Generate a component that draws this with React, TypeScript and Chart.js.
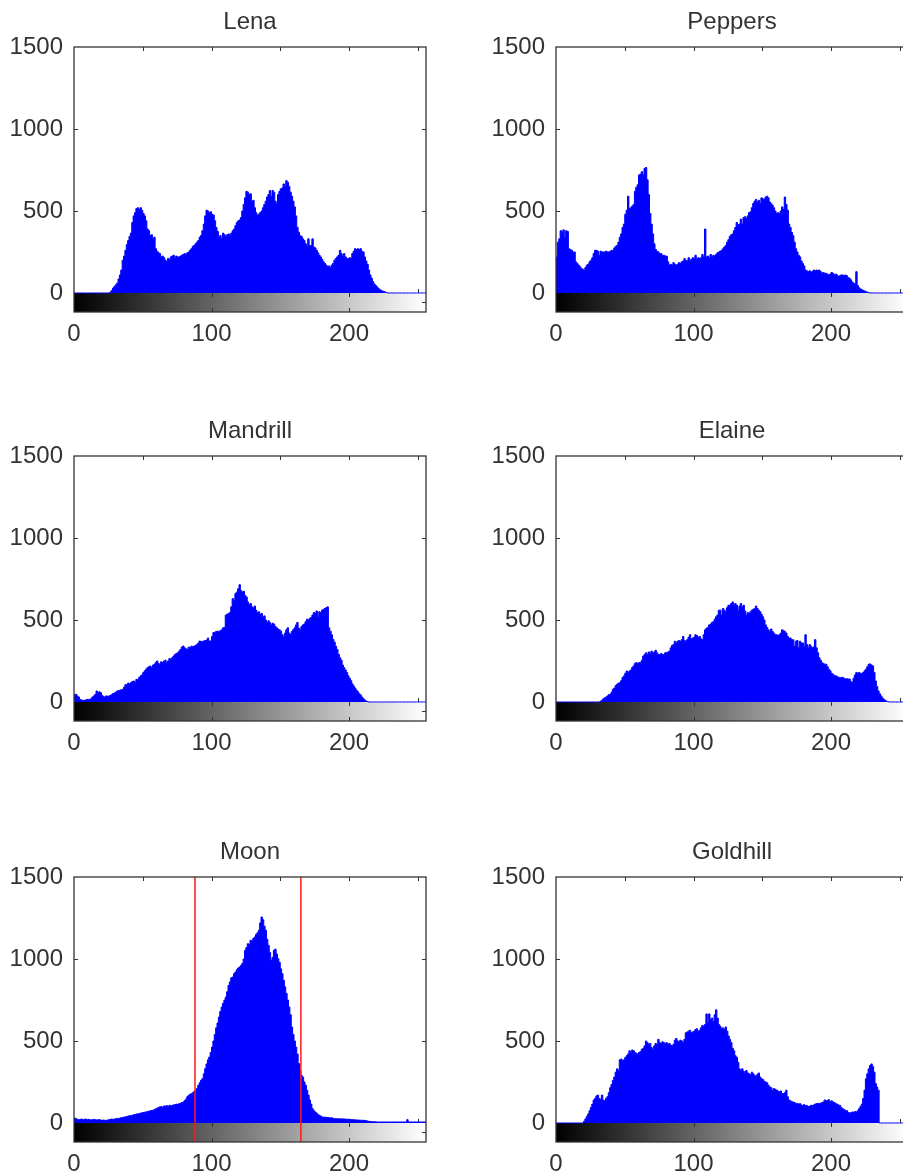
import { useEffect, useRef } from 'react';
import { Chart, registerables } from 'chart.js';

Chart.register(...registerables);

// ---------- axes / ticks ----------
const xTickValues = [0, 50, 100, 150, 200, 250];
const xTickLabels = [0, 100, 200];
const colorbarTickValues = [100, 200];
const yTickValues = [0, 500, 1000, 1500];
const yInnerTickValues = [500, 1000];
const xMin = 0;
const xMax = 256;
const yMin = -116;
const yMax = 1500;

// ---------- titles ----------
const titles = ['Lena', 'Peppers', 'Mandrill', 'Elaine', 'Moon', 'Goldhill'];

// ---------- histogram counts (bins 0..255) ----------
const lenaCounts = [
  0, 0, 0, 0, 0, 0, 0, 0, 0, 0, 0, 0, 0, 0, 0, 0,
  0, 0, 0, 0, 0, 0, 0, 0, 0, 0, 5, 15, 30, 40, 50, 60,
  85, 110, 140, 200, 225, 260, 295, 320, 345, 365, 430, 470, 490, 515, 520, 510,
  520, 505, 485, 470, 440, 390, 380, 350, 355, 330, 340, 270, 255, 245, 240, 220,
  225, 215, 200, 190, 210, 205, 220, 225, 230, 215, 225, 220, 220, 225, 230, 235,
  240, 235, 245, 250, 260, 270, 285, 290, 300, 310, 320, 340, 350, 380, 420, 470,
  505, 500, 490, 495, 480, 475, 440, 400, 375, 340, 350, 330, 365, 355, 345, 355,
  360, 350, 365, 380, 390, 410, 430, 440, 445, 460, 500, 540, 580, 620, 615, 600,
  605, 560, 565, 520, 490, 475, 480, 490, 500, 520, 540, 560, 585, 600, 625, 590,
  625, 615, 560, 545, 600, 620, 635, 640, 665, 650, 685, 675, 650, 615, 590, 560,
  525, 470, 400, 370, 350, 345, 330, 320, 300, 290, 330, 290, 290, 330, 280, 275,
  260, 245, 230, 220, 205, 190, 180, 170, 160, 165, 155, 170, 180, 200, 210, 220,
  230, 260, 240, 225, 240, 220, 210, 210, 215, 210, 240, 255, 270, 265, 270, 265,
  270, 255, 250, 220, 195, 175, 140, 110, 90, 70, 55, 45, 37, 28, 20, 15,
  12, 9, 5, 2, 0, 0, 0, 0, 0, 0, 0, 0, 0, 0, 0, 0,
  0, 0, 0, 0, 0, 0, 0, 0, 0, 0, 0, 0, 0, 0, 0, 0,
];

const peppersCounts = [
  220, 310, 330, 380, 370, 385, 340, 380, 375, 270, 265, 260, 250, 250, 190, 180,
  170, 160, 150, 145, 140, 155, 170, 175, 190, 200, 215, 240, 260, 260, 255, 230,
  255, 250, 250, 250, 255, 250, 250, 255, 260, 260, 275, 285, 290, 310, 340, 360,
  400, 420, 480, 505, 590, 515, 520, 530, 540, 620, 645, 660, 720, 725, 740, 720,
  760, 765, 690, 600, 485, 420, 360, 300, 265, 255, 250, 240, 240, 230, 230, 225,
  225, 190, 170, 175, 170, 185, 175, 170, 175, 185, 180, 190, 195, 210, 200, 195,
  215, 200, 205, 215, 210, 230, 205, 215, 210, 215, 235, 220, 390, 220, 225, 215,
  235, 220, 230, 225, 235, 245, 250, 255, 260, 270, 280, 290, 310, 325, 345, 355,
  360, 380, 400, 430, 415, 420, 450, 420, 460, 465, 455, 470, 490, 495, 520, 545,
  560, 570, 555, 565, 545, 580, 575, 570, 585, 590, 580, 555, 545, 535, 520, 500,
  485, 490, 485, 500, 525, 510, 585, 540, 505, 420, 400, 370, 350, 310, 270, 250,
  230, 220, 195, 180, 165, 140, 135, 130, 135, 130, 130, 140, 135, 140, 135, 140,
  130, 120, 125, 120, 120, 115, 110, 115, 125, 120, 110, 115, 110, 100, 105, 110,
  110, 105, 110, 105, 95, 90, 80, 67, 60, 57, 130, 45, 32, 25, 20, 15,
  12, 8, 5, 2, 0, 0, 0, 0, 0, 0, 0, 0, 0, 0, 0, 0,
  0, 0, 0, 0, 0, 0, 0, 0, 0, 0, 0, 0, 0, 0, 0, 0,
];

const mandrillCounts = [
  45, 47, 37, 30, 16, 12, 10, 10, 12, 16, 14, 16, 20, 30, 37, 45,
  67, 55, 62, 57, 40, 32, 30, 37, 35, 37, 40, 45, 51, 55, 60, 67,
  70, 71, 75, 77, 90, 105, 107, 115, 110, 118, 125, 128, 120, 138, 135, 150,
  159, 165, 179, 190, 200, 209, 215, 219, 210, 225, 230, 240, 250, 235, 230, 245,
  240, 250, 255, 240, 250, 265, 260, 270, 280, 290, 295, 300, 310, 320, 335, 341,
  330, 325, 320, 335, 331, 340, 338, 341, 345, 350, 360, 372, 365, 370, 372, 375,
  378, 390, 372, 372, 400, 423, 425, 430, 432, 430, 435, 440, 452, 455, 530, 535,
  540, 545, 580, 630, 620, 660, 670, 690, 715, 680, 670, 675, 650, 640, 610, 595,
  600, 580, 575, 585, 560, 545, 550, 535, 540, 520, 525, 500, 485, 495, 485, 470,
  480, 475, 460, 452, 445, 440, 432, 410, 400, 420, 440, 452, 420, 412, 430, 440,
  452, 470, 485, 450, 440, 460, 470, 475, 490, 505, 500, 510, 515, 530, 545, 540,
  555, 520, 550, 545, 560, 565, 570, 575, 580, 452, 432, 410, 382, 365, 340, 320,
  290, 270, 255, 225, 209, 195, 179, 160, 145, 130, 110, 97, 85, 72, 62, 50,
  43, 30, 20, 12, 6, 3, 0, 0, 0, 0, 0, 0, 0, 0, 0, 0,
  0, 0, 0, 0, 0, 0, 0, 0, 0, 0, 0, 0, 0, 0, 0, 0,
  0, 0, 0, 0, 0, 0, 0, 0, 0, 0, 0, 0, 0, 0, 0, 0,
];

const elaineCounts = [
  0, 0, 0, 0, 0, 0, 0, 0, 0, 0, 0, 0, 0, 0, 0, 0,
  0, 0, 0, 0, 0, 0, 0, 0, 0, 0, 0, 0, 0, 0, 0, 0,
  5, 10, 20, 25, 30, 37, 45, 47, 60, 77, 85, 100, 108, 115, 118, 130,
  150, 159, 175, 189, 180, 189, 195, 210, 220, 235, 240, 235, 240, 240, 255, 280,
  290, 300, 290, 305, 295, 310, 300, 305, 315, 300, 290, 290, 295, 290, 290, 300,
  300, 305, 310, 330, 345, 350, 370, 360, 370, 375, 370, 380, 400, 375, 370, 380,
  395, 410, 385, 390, 395, 410, 405, 395, 400, 385, 380, 410, 440, 450, 455, 470,
  475, 485, 490, 505, 520, 530, 560, 560, 530, 570, 560, 550, 575, 590, 590, 600,
  610, 595, 600, 590, 560, 585, 600, 580, 590, 555, 530, 545, 540, 550, 560, 565,
  570, 585, 570, 560, 550, 535, 520, 500, 470, 455, 440, 430, 445, 430, 420, 410,
  410, 405, 410, 420, 440, 435, 430, 420, 400, 390, 390, 380, 380, 340, 370, 375,
  330, 370, 360, 360, 340, 410, 350, 330, 350, 340, 330, 335, 380, 330, 300, 270,
  255, 240, 235, 230, 230, 215, 200, 190, 175, 170, 160, 160, 155, 150, 150, 148,
  150, 145, 140, 142, 140, 140, 125, 118, 145, 165, 180, 175, 180, 175, 170, 180,
  190, 200, 215, 230, 232, 225, 220, 180, 128, 95, 67, 50, 37, 25, 15, 10,
  5, 2, 0, 0, 0, 0, 0, 0, 0, 0, 0, 0, 0, 0, 0, 0,
];

const moonCounts = [
  30, 26, 22, 20, 22, 24, 20, 22, 24, 20, 22, 20, 18, 20, 22, 20,
  18, 20, 20, 18, 16, 18, 16, 16, 18, 20, 22, 24, 22, 24, 26, 28,
  26, 30, 32, 34, 36, 37, 40, 42, 44, 45, 47, 50, 52, 54, 56, 57,
  60, 62, 64, 66, 67, 70, 72, 74, 76, 77, 82, 86, 90, 95, 98, 100,
  96, 104, 102, 106, 100, 108, 104, 108, 110, 112, 115, 112, 118, 120, 125, 128,
  135, 145, 160, 169, 175, 179, 185, 192, 199, 210, 230, 245, 260, 270, 300, 331,
  360, 385, 402, 430, 463, 500, 540, 580, 610, 646, 680, 707, 730, 750, 768, 800,
  839, 860, 885, 890, 910, 920, 935, 945, 951, 960, 972, 1000, 1053, 1070, 1093, 1090,
  1114, 1110, 1125, 1134, 1150, 1160, 1175, 1220, 1256, 1240, 1200, 1175, 1120, 1083, 1040, 992,
  1010, 1053, 1060, 1030, 1002, 980, 940, 910, 870, 830, 790, 750, 707, 660, 585, 540,
  500, 463, 420, 362, 320, 290, 280, 250, 230, 200, 170, 140, 115, 87, 75, 67,
  60, 50, 47, 42, 37, 35, 36, 33, 34, 33, 30, 32, 28, 27, 26, 26,
  25, 26, 24, 25, 24, 24, 22, 23, 22, 21, 20, 20, 19, 18, 18, 17,
  17, 16, 16, 16, 14, 12, 10, 9, 8, 8, 7, 7, 6, 6, 6, 6,
  6, 6, 6, 6, 6, 6, 6, 6, 6, 6, 6, 6, 6, 6, 6, 6,
  6, 6, 20, 6, 6, 6, 6, 6, 6, 6, 6, 6, 6, 6, 6, 6,
];

const goldhillCounts = [
  0, 0, 0, 0, 0, 0, 0, 0, 0, 0, 0, 0, 0, 0, 0, 0,
  0, 0, 0, 0, 10, 25, 40, 55, 75, 95, 115, 140, 150, 165, 170, 150,
  145, 170, 140, 135, 150, 160, 185, 215, 235, 260, 280, 310, 330, 320, 385, 390,
  380, 385, 400, 410, 420, 440, 430, 445, 440, 430, 425, 420, 430, 435, 450, 455,
  470, 500, 490, 480, 485, 460, 445, 470, 485, 480, 510, 490, 485, 495, 490, 485,
  490, 480, 485, 475, 470, 480, 505, 515, 500, 495, 505, 500, 490, 510, 550, 555,
  560, 565, 550, 555, 560, 570, 575, 560, 565, 580, 595, 590, 600, 665, 610, 665,
  630, 640, 620, 660, 690, 640, 600, 590, 575, 580, 570, 585, 560, 530, 510, 490,
  455, 440, 410, 400, 370, 330, 320, 330, 315, 310, 320, 305, 300, 295, 310, 300,
  290, 285, 295, 305, 280, 270, 265, 255, 250, 245, 230, 220, 215, 200, 210, 205,
  200, 195, 190, 195, 180, 178, 185, 200, 160, 140, 135, 130, 128, 125, 118, 120,
  115, 118, 110, 107, 112, 105, 107, 100, 102, 108, 107, 110, 115, 118, 120, 118,
  120, 125, 128, 140, 134, 138, 142, 130, 135, 128, 125, 118, 115, 110, 107, 95,
  87, 82, 77, 75, 65, 61, 63, 67, 65, 70, 67, 75, 87, 100, 115, 150,
  200, 269, 300, 330, 350, 360, 345, 310, 240, 219, 200, 0, 0, 0, 0, 0,
  0, 0, 0, 0, 0, 0, 0, 0, 0, 0, 0, 0, 0, 0, 0, 0,
];

// threshold markers drawn on the Moon histogram
const moonThresholds = [88, 165];

const seriesList = [lenaCounts, peppersCounts, mandrillCounts, elaineCounts, moonCounts, goldhillCounts];
const thresholdList = [[], [], [], [], moonThresholds, []];

// ---------- layout / style ----------
const FONT_FAMILY = '"Liberation Sans", Arial, Helvetica, sans-serif';
const TEXT_COLOR = '#333333';
const AXIS_COLOR = '#333333';
const BLUE = '#0000ff';
const RED = '#ff1a1a';
const TICK_LEN = 4;
const colLeft = [0, 450];
const colWidth = [450, 480];
const colAxisWidth = [74, 106];
const colRightPad = [24, 22];
const rowTop = [0, 409, 830];
const CANVAS_H = 350;
const X_AXIS_H = 38;

const decorPlugin = {
  id: 'histDecor',
  beforeDatasetsDraw(chart: any) {
    const { ctx, chartArea, scales } = chart;
    const xs = scales.x;
    const ys = scales.y;
    const x0 = xs.getPixelForValue(xMin);
    const x1 = xs.getPixelForValue(xMax);
    const yz = ys.getPixelForValue(0);
    const yb = chartArea.bottom;
    ctx.save();
    // grayscale colour bar under the histogram
    const g = ctx.createLinearGradient(x0, 0, x1, 0);
    g.addColorStop(0, '#000000');
    g.addColorStop(1, '#ffffff');
    ctx.fillStyle = g;
    ctx.fillRect(x0, yz, x1 - x0, yb - yz);
    ctx.strokeStyle = AXIS_COLOR;
    ctx.lineWidth = 1;
    ctx.beginPath();
    // inward x ticks (top and above the zero line)
    xTickValues.forEach((v) => {
      if (v === xMin) return;
      const px = Math.round(xs.getPixelForValue(v)) + 0.5;
      ctx.moveTo(px, chartArea.top);
      ctx.lineTo(px, chartArea.top + TICK_LEN);
      ctx.moveTo(px, yz);
      ctx.lineTo(px, yz - TICK_LEN);
    });
    // colour bar ticks
    colorbarTickValues.forEach((v) => {
      const px = Math.round(xs.getPixelForValue(v)) + 0.5;
      ctx.moveTo(px, yz);
      ctx.lineTo(px, yz + TICK_LEN);
      ctx.moveTo(px, yb);
      ctx.lineTo(px, yb - TICK_LEN);
    });
    // inward y ticks on both sides
    yInnerTickValues.forEach((v) => {
      const py = Math.round(ys.getPixelForValue(v)) + 0.5;
      ctx.moveTo(chartArea.left, py);
      ctx.lineTo(chartArea.left + TICK_LEN, py);
      ctx.moveTo(chartArea.right, py);
      ctx.lineTo(chartArea.right - TICK_LEN, py);
    });
    const pm = Math.round((yz + yb) / 2) + 0.5;
    ctx.moveTo(chartArea.right, pm);
    ctx.lineTo(chartArea.right - TICK_LEN, pm);
    ctx.stroke();
    ctx.restore();
  },
  afterDatasetsDraw(chart: any) {
    const { ctx, chartArea } = chart;
    ctx.save();
    ctx.strokeStyle = AXIS_COLOR;
    ctx.lineWidth = 1.3;
    ctx.strokeRect(chartArea.left, chartArea.top, chartArea.right - chartArea.left, chartArea.bottom - chartArea.top);
    ctx.restore();
  },
};

type HistProps = {
  title: string;
  counts: number[];
  thresholds: number[];
  left: number;
  top: number;
  width: number;
  height: number;
  axisWidth: number;
  rightPad: number;
};

function Histogram({ title, counts, thresholds, left, top, width, height, axisWidth, rightPad }: HistProps) {
  const ref = useRef<HTMLCanvasElement | null>(null);
  useEffect(() => {
    const canvas = ref.current;
    if (!canvas) return;
    const histPoints = counts.map((v, i) => ({ x: i, y: v }));
    histPoints.push({ x: xMax, y: counts[counts.length - 1] });
    const datasets: any[] = [
      {
        label: title,
        data: histPoints,
        stepped: true,
        fill: 'origin',
        borderColor: BLUE,
        backgroundColor: BLUE,
        borderWidth: 1,
        pointRadius: 0,
        order: 1,
      },
    ];
    thresholds.forEach((t) => {
      datasets.push({
        label: 'threshold ' + t,
        data: [
          { x: t, y: yMin },
          { x: t, y: yMax },
        ],
        borderColor: RED,
        backgroundColor: RED,
        borderWidth: 1.5,
        pointRadius: 0,
        fill: false,
        order: 0,
      });
    });
    const font = { family: FONT_FAMILY, size: 24, weight: 'normal' as const };
    const chart = new Chart(canvas, {
      type: 'line',
      data: { datasets },
      plugins: [decorPlugin],
      options: {
        animation: false,
        responsive: false,
        events: [],
        layout: { padding: { left: 0, right: rightPad, top: 0, bottom: 0 } },
        plugins: {
          legend: { display: false },
          tooltip: { enabled: false },
          title: {
            display: true,
            text: title,
            fullSize: false,
            color: TEXT_COLOR,
            font,
            padding: { top: 7.5, bottom: 10.7 },
          },
        },
        scales: {
          x: {
            type: 'linear',
            min: xMin,
            max: xMax,
            afterBuildTicks: (s: any) => {
              s.ticks = xTickValues.map((v) => ({ value: v }));
            },
            afterFit: (s: any) => {
              s.height = X_AXIS_H;
            },
            ticks: {
              autoSkip: false,
              maxRotation: 0,
              padding: 8,
              color: TEXT_COLOR,
              font,
              callback: (v: any) => (xTickLabels.includes(Number(v)) ? String(v) : ''),
            },
            grid: { display: false, drawTicks: false },
            border: { display: false },
          },
          y: {
            type: 'linear',
            min: yMin,
            max: yMax,
            afterBuildTicks: (s: any) => {
              s.ticks = yTickValues.map((v) => ({ value: v }));
            },
            afterFit: (s: any) => {
              s.width = axisWidth;
            },
            ticks: {
              padding: 11,
              color: TEXT_COLOR,
              font,
              callback: (v: any) => String(v),
            },
            grid: { display: false, drawTicks: false },
            border: { display: false },
          },
        },
      } as any,
    });
    return () => chart.destroy();
  }, [title, counts, thresholds, width, height, axisWidth, rightPad]);
  return (
    <canvas
      ref={ref}
      width={width}
      height={height}
      style={{ position: 'absolute', left, top, width, height, display: 'block' }}
    />
  );
}

export default function App() {
  return (
    <div
      style={{
        position: 'absolute',
        left: 0,
        top: 0,
        width: 903,
        height: 1175,
        overflow: 'hidden',
        background: '#ffffff',
      }}
    >
      {titles.map((t, i) => {
        const col = i % 2;
        const row = Math.floor(i / 2);
        return (
          <Histogram
            key={t}
            title={t}
            counts={seriesList[i]}
            thresholds={thresholdList[i]}
            left={colLeft[col]}
            top={rowTop[row]}
            width={colWidth[col]}
            height={CANVAS_H}
            axisWidth={colAxisWidth[col]}
            rightPad={colRightPad[col]}
          />
        );
      })}
    </div>
  );
}
